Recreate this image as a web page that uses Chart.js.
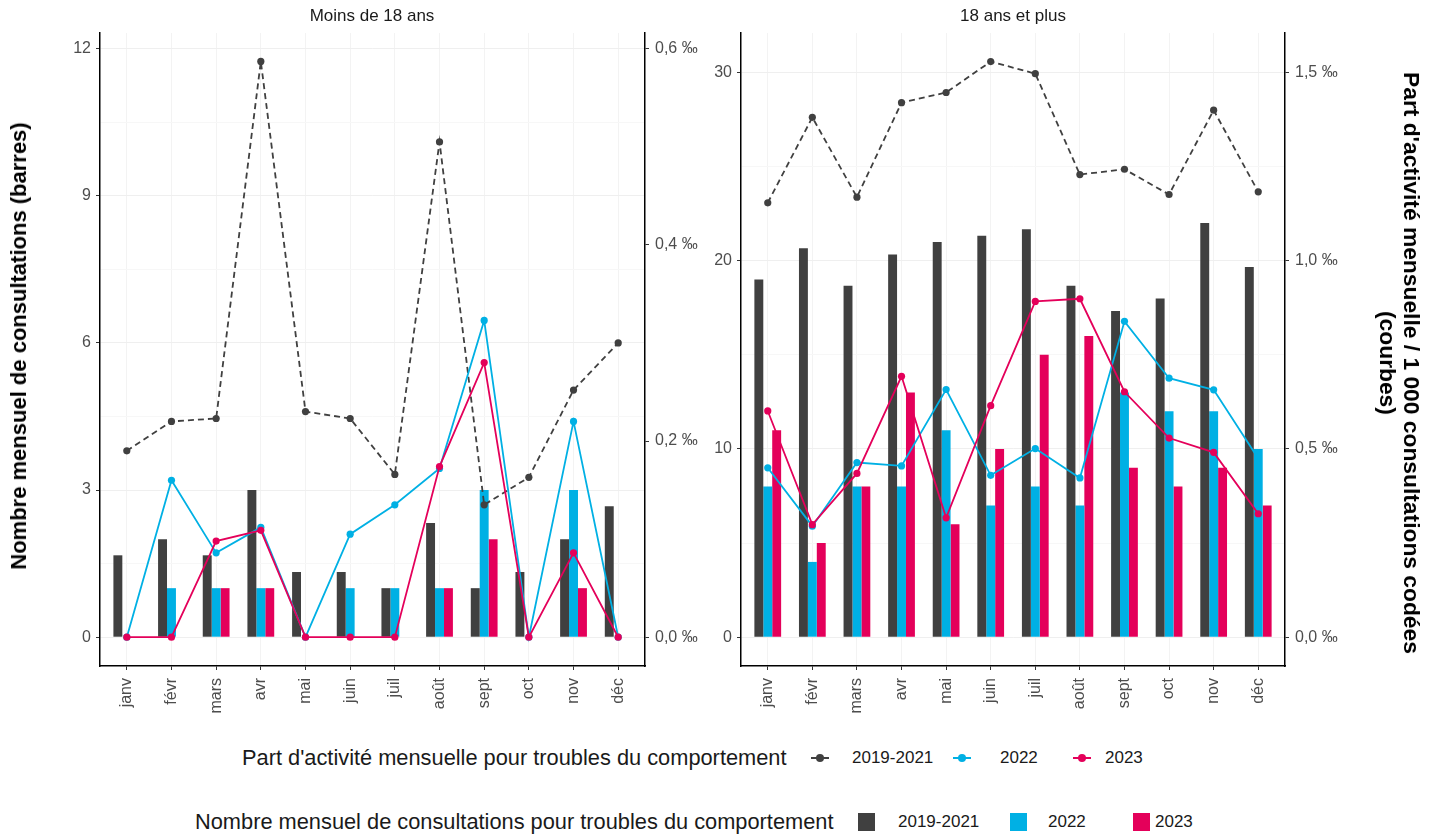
<!DOCTYPE html>
<html lang="fr">
<head>
<meta charset="utf-8">
<script src="https://cdn.jsdelivr.net/npm/chart.js@4"></script>
<style>
  body { margin: 0; background: #fff; font-family: "Liberation Sans", Arial, sans-serif; }
  #wrap { position: relative; width: 1438px; height: 837px; overflow: hidden; }
  canvas { position: absolute; top: 0; }
  .txt { position: absolute; white-space: nowrap; color: #1a1a1a; }
  .ptitle { font-size: 17px; transform: translateX(-50%); top: 6px; }
  .atitle { font-weight: bold; font-size: 22px; color: #000; }
  .lg { position: absolute; white-space: nowrap; color: #1a1a1a; }
  .key-sq { position: absolute; width: 17px; height: 18px; }
  .key-dot { position: absolute; width: 8px; height: 8px; border-radius: 50%; }
  .key-line { position: absolute; width: 18px; height: 2px; }
</style>
</head>
<body>
<div id="wrap">
  <canvas id="left" width="705" height="730" style="left:0px"></canvas>
  <canvas id="right" width="680" height="730" style="left:700px"></canvas>

  <div class="txt ptitle" style="left:372px">Moins de 18 ans</div>
  <div class="txt ptitle" style="left:1013px">18 ans et plus</div>

  <div class="txt atitle" style="left:19px; top:346px; transform: translate(-50%,-50%) rotate(-90deg);">Nombre mensuel de consultations (barres)</div>
  <div class="txt atitle" style="left:1400px; top:363px; font-size:22.8px; transform: translate(-50%,-50%) rotate(90deg); text-align:center; line-height:24px;">Part d'activité mensuelle / 1 000 consultations codées<br>(courbes)</div>

  <div id="legend"></div>
</div>

<script>
// Months (x categories)
const months = ["janv", "févr", "mars", "avr", "mai", "juin", "juil", "août", "sept", "oct", "nov", "déc"];
const seriesNames = ["2019-2021", "2022", "2023"];

// Moins de 18 ans : monthly consultations (bars)
const kidsBars2019 = [1.67, 2, 1.67, 3, 1.33, 1.33, 1, 2.33, 1, 1.33, 2, 2.67];
const kidsBars2022 = [0, 1, 1, 1, 0, 1, 1, 1, 3, 0, 3, 0];
const kidsBars2023 = [0, 0, 1, 1, 0, 0, 0, 1, 2, 0, 1, 0];
// Moins de 18 ans : share per 1 000 coded consultations (lines, ‰)
const kidsRate2019 = [0.190, 0.220, 0.223, 0.587, 0.230, 0.223, 0.166, 0.505, 0.135, 0.163, 0.252, 0.300];
const kidsRate2022 = [0, 0.160, 0.086, 0.112, 0, 0.105, 0.135, 0.172, 0.323, 0, 0.220, 0];
const kidsRate2023 = [0, 0, 0.098, 0.109, 0, 0, 0, 0.174, 0.280, 0, 0.086, 0];

// 18 ans et plus : monthly consultations (bars)
const adultBars2019 = [19, 20.67, 18.67, 20.33, 21, 21.33, 21.67, 18.67, 17.33, 18, 22, 19.67];
const adultBars2022 = [8, 4, 8, 8, 11, 7, 8, 7, 13, 12, 12, 10];
const adultBars2023 = [11, 5, 8, 13, 6, 10, 15, 16, 9, 8, 9, 7];
// 18 ans et plus : share per 1 000 coded consultations (lines, ‰)
const adultRate2019 = [1.154, 1.381, 1.169, 1.420, 1.447, 1.529, 1.497, 1.229, 1.243, 1.176, 1.400, 1.183];
const adultRate2022 = [0.450, 0.295, 0.464, 0.455, 0.658, 0.430, 0.501, 0.423, 0.839, 0.688, 0.657, 0.475];
const adultRate2023 = [0.601, 0.299, 0.435, 0.693, 0.317, 0.615, 0.892, 0.899, 0.652, 0.529, 0.491, 0.328];

// Colours
const colDark = "#404040";
const colBlue = "#00b0e4";
const colPink = "#e4005a";

// secondary axis = primary / 20
const RATIO = 20;

Chart.defaults.font.family = "'Liberation Sans', Arial, sans-serif";
Chart.defaults.color = "#4d4d4d";

function fmtPermil(v) {
    return v.toFixed(1).replace(".", ",") + " ‰";
}

// Builds one panel (bars on y, lines on y2)
function makePanel(canvasId, bars, rates, ax) {
    const barColors = [colDark, colBlue, colPink];
    const datasets = [];

    rates.forEach((r, i) => {
        datasets.push({
            type: "line",
            label: seriesNames[i],
            data: r,
            yAxisID: "y2",
            borderColor: barColors[i],
            backgroundColor: barColors[i],
            borderWidth: 1.8,
            borderDash: i === 0 ? [6, 4] : [],
            pointRadius: 3.6,
            pointBorderWidth: 0,
            pointBackgroundColor: barColors[i],
            tension: 0,
            order: 3 - i
        });
    });

    bars.forEach((b, i) => {
        datasets.push({
            type: "bar",
            label: seriesNames[i],
            data: b,
            yAxisID: "y",
            backgroundColor: barColors[i],
            borderWidth: 0,
            categoryPercentage: 0.6,
            barPercentage: 1.0,
            order: 10
        });
    });

    const isMajor = v => Math.abs(v / ax.major - Math.round(v / ax.major)) < 1e-6;

    const config = {
        type: "bar",
        data: { labels: months, datasets: datasets },
        options: {
            responsive: false,
            animation: false,
            devicePixelRatio: 1,
            layout: { padding: { top: 33, left: 0, right: 0, bottom: 0 } },
            plugins: { legend: { display: false }, tooltip: { enabled: false } },
            scales: {
                x: {
                    offset: true,
                    grid: { offset: false, color: "#f3f3f3", tickColor: "#333", tickLength: 4 },
                    border: { display: true, color: "#000", width: 1.5 },
                    ticks: { minRotation: 90, maxRotation: 90, padding: 8, font: { size: 16 }, color: "#4d4d4d" },
                    // ggplot-like discrete expansion (0.6 of a category each side)
                    afterBuildTicks: s => { s._startValue = -0.6; s._valueRange = months.length + 0.2; },
                    afterFit: s => { s.height = 64; }
                },
                y: {
                    position: "left",
                    min: ax.min,
                    max: ax.max,
                    grid: {
                        color: c => isMajor(c.tick.value) ? "#efefef" : "#f7f7f7",
                        tickColor: c => isMajor(c.tick.value) ? "#333" : "rgba(0,0,0,0)",
                        tickLength: 4
                    },
                    border: { display: true, color: "#000", width: 1.5 },
                    ticks: {
                        stepSize: ax.major / 2,
                        includeBounds: false,
                        padding: 5,
                        font: { size: 16 },
                        color: "#4d4d4d",
                        callback: v => isMajor(v) ? String(Math.round(v)) : ""
                    },
                    afterFit: s => { s.width = ax.leftW; }
                },
                y2: {
                    position: "right",
                    min: ax.min / RATIO,
                    max: ax.max / RATIO,
                    grid: { drawOnChartArea: false, tickColor: "#333", tickLength: 4 },
                    border: { display: true, color: "#000", width: 1.5 },
                    ticks: {
                        stepSize: ax.major2,
                        includeBounds: false,
                        padding: 6,
                        font: { size: 16 },
                        color: "#4d4d4d",
                        callback: v => fmtPermil(v)
                    },
                    afterFit: s => { s.width = ax.rightW; }
                }
            }
        }
    };

    return new Chart(document.getElementById(canvasId), config);
}

makePanel("left",
    [kidsBars2019, kidsBars2022, kidsBars2023],
    [kidsRate2019, kidsRate2022, kidsRate2023],
    { min: -0.587, max: 12.32, major: 3, major2: 0.2, leftW: 100, rightW: 60 });

makePanel("right",
    [adultBars2019, adultBars2022, adultBars2023],
    [adultRate2019, adultRate2022, adultRate2023],
    { min: -1.53, max: 32.1, major: 10, major2: 0.5, leftW: 41, rightW: 95 });

// Legend (HTML)
const legend = document.getElementById("legend");
function addEl(cls, style, text) {
    const d = document.createElement("div");
    d.className = cls;
    d.setAttribute("style", style);
    if (text) d.textContent = text;
    legend.appendChild(d);
}
const keyColors = [colDark, colBlue, colPink];

// row 1 : lines
addEl("lg", "left:242px; top:745px; font-size:21.8px;", "Part d'activité mensuelle pour troubles du comportement");
[820, 962, 1082].forEach((x, i) => {
    addEl("key-line", `left:${x - 9}px; top:757px; background:${keyColors[i]};`);
    addEl("key-dot", `left:${x - 4}px; top:754px; background:${keyColors[i]};`);
});
[852, 1000, 1105].forEach((x, i) => addEl("lg", `left:${x}px; top:748px; font-size:17px;`, seriesNames[i]));

// row 2 : bars
addEl("lg", "left:195px; top:809px; font-size:21.8px;", "Nombre mensuel de consultations pour troubles du comportement");
[858, 1010, 1133].forEach((x, i) => addEl("key-sq", `left:${x}px; top:813px; background:${keyColors[i]};`));
[898, 1048, 1155].forEach((x, i) => addEl("lg", `left:${x}px; top:812px; font-size:17px;`, seriesNames[i]));
</script>
</body>
</html>
